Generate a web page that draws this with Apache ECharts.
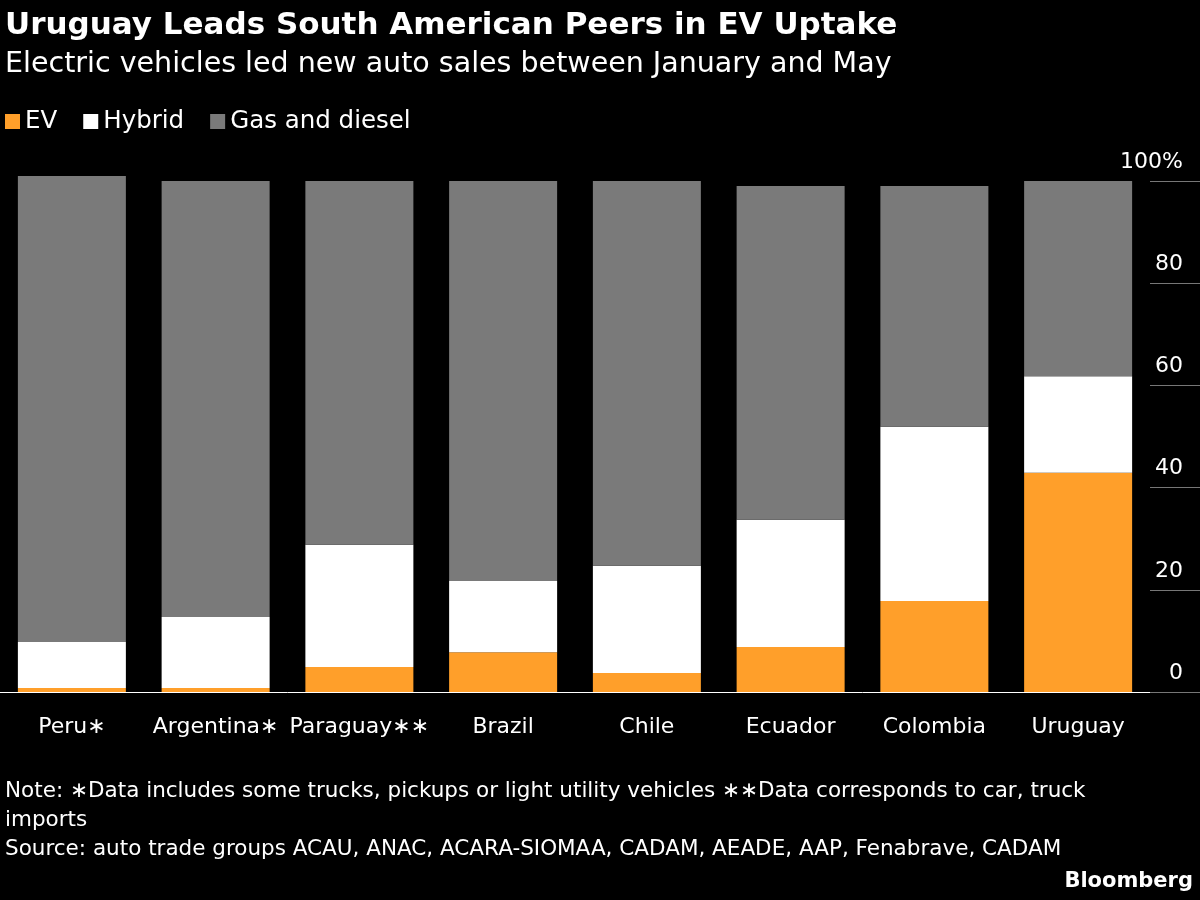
<!DOCTYPE html>
<html><head><meta charset="utf-8">
<script src="https://cdn.jsdelivr.net/npm/echarts@6/dist/echarts.min.js"></script>
<style>html,body{margin:0;background:#000}#c{width:1200px;height:900px}</style>
</head><body><div id="c"></div>
<script>
// values (percent of new sales)
var countries = ['Peru*', 'Argentina*', 'Paraguay**', 'Brazil', 'Chile', 'Ecuador', 'Colombia', 'Uruguay'];
var ev = [0.8, 0.8, 4.9, 7.8, 3.7, 8.8, 17.8, 42.9];
var hybrid = [9.0, 13.9, 23.9, 13.9, 21.0, 24.9, 34.1, 18.9];
var gas = [91.2, 85.3, 71.2, 78.3, 75.3, 65.3, 47.1, 38.2];
var yTicks = [0, 20, 40, 60, 80, 100];

var font = 'DejaVu Sans';
var chart = echarts.init(document.getElementById('c'));
function bar(name, data, color) {
  return { name: name, type: 'bar', stack: 'all', data: data, barWidth: 108, clip: false,
    itemStyle: { color: color }, emphasis: { disabled: true } };
}
chart.setOption({
  backgroundColor: '#000',
  animation: false,
  textStyle: { fontFamily: font },
  title: [
    { text: 'Uruguay Leads South American Peers in EV Uptake', left: 0, top: 5,
      textStyle: { color: '#fff', fontSize: 31, fontWeight: 'bold', fontFamily: font } },
    { text: 'Electric vehicles led new auto sales between January and May', left: 0, top: 45,
      textStyle: { color: '#fff', fontSize: 28.5, fontWeight: 'normal', fontFamily: font } },
    { text: 'Note: \u2217Data includes some trucks, pickups or light utility vehicles \u2217\u2217Data corresponds to car, truck\nimports\nSource: auto trade groups ACAU, ANAC, ACARA-SIOMAA, CADAM, AEADE, AAP, Fenabrave, CADAM',
      left: 0, top: 772, textStyle: { color: '#fff', fontSize: 21.5, fontWeight: 'normal', lineHeight: 29, fontFamily: font } },
    { text: 'Bloomberg', right: 2, top: 866,
      textStyle: { color: '#fff', fontSize: 21, fontWeight: 'bold', fontFamily: font } }
  ],
  legend: {
    left: 0, top: 104, itemWidth: 15, itemHeight: 15, itemGap: 26, icon: 'rect',
    textStyle: { color: '#fff', fontSize: 24.5, fontFamily: font },
    data: ['EV', 'Hybrid', 'Gas and diesel']
  },
  grid: { left: 0, right: 50, top: 181, bottom: 208 },
  xAxis: {
    type: 'category', data: countries,
    axisLine: { lineStyle: { color: '#fff', width: 1 } },
    axisTick: { alignWithLabel: true, length: 6, lineStyle: { color: '#fff' } },
    axisLabel: { color: '#fff', fontSize: 22, margin: 24, interval: 0,
      formatter: function (v) { return v.replace(/\*/g, '\u2217'); } }
  },
  yAxis: {
    type: 'value', position: 'right', min: 0, max: 100, interval: 20,
    axisLine: { show: false },
    splitLine: { show: false },
    axisTick: { show: true, length: 50, lineStyle: { color: '#777' } },
    axisLabel: { color: '#fff', fontSize: 22, align: 'right', margin: 33, verticalAlign: 'bottom', padding: [0, 0, 8, 0],
      formatter: function (v) { return yTicks.indexOf(v) < 0 ? '' : (v === 100 ? '100%' : String(v)); } }
  },
  series: [
    bar('EV', ev, '#ff9f2a'),
    bar('Hybrid', hybrid, '#ffffff'),
    bar('Gas and diesel', gas, '#7a7a7a')
  ]
});
</script></body></html>
